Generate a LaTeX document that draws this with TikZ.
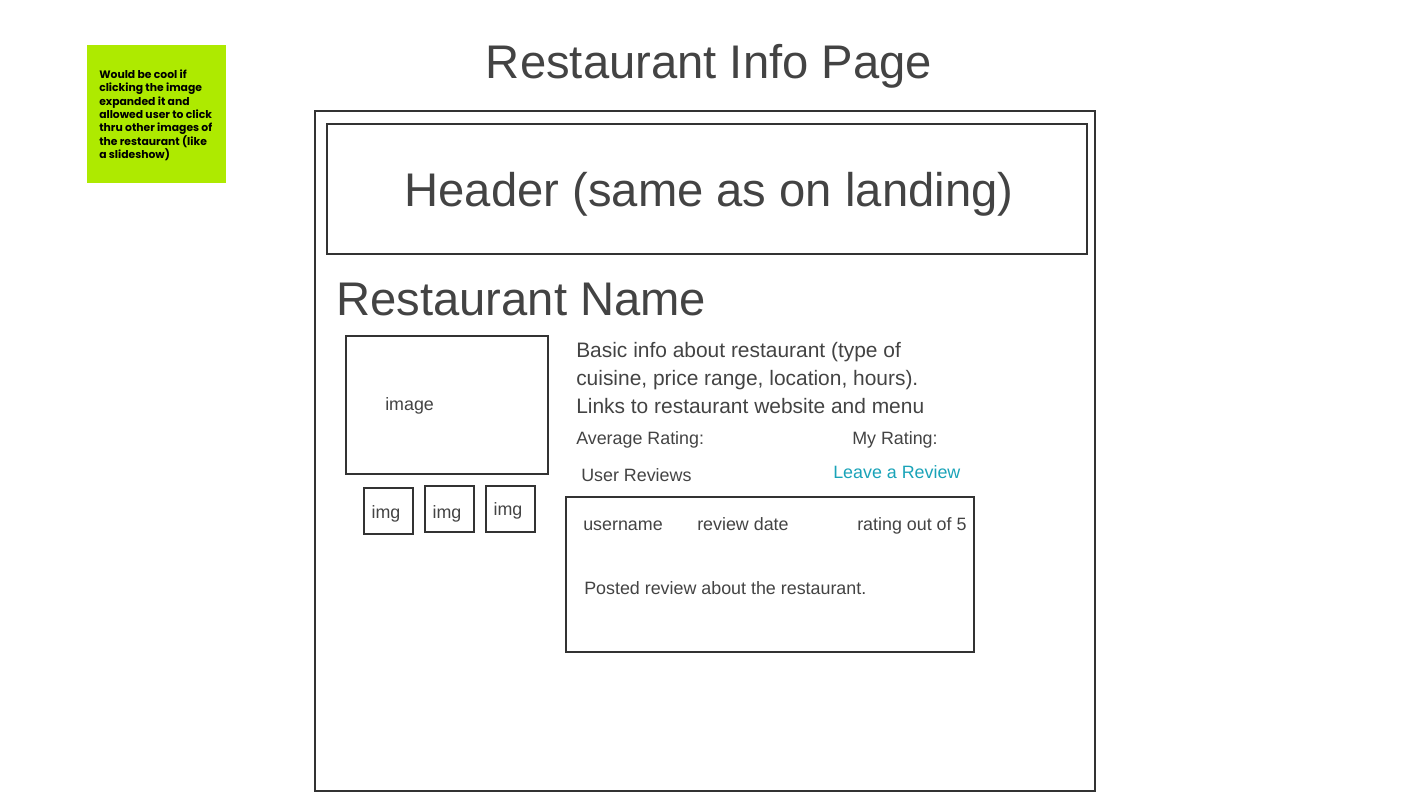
\documentclass[tikz,border=0pt]{standalone}
\usepackage{fontspec}
\setmainfont{Liberation Sans}
\newfontfamily\notefont{Poppins}
\definecolor{inktext}{HTML}{434343}
\definecolor{inkline}{HTML}{333333}
\definecolor{notegreen}{HTML}{AEEA00}
\definecolor{linkteal}{HTML}{1AA3B8}
\tikzset{
  wirebox/.style={draw=inkline, line width=1.5pt},
  lbl/.style={anchor=base west, inner sep=0.75pt, text=inktext},
  bigtxt/.style={font=\fontsize{35.4}{42}\selectfont},
  midtxt/.style={font=\fontsize{15.7}{21}\selectfont},
  smalltxt/.style={font=\fontsize{13.4}{16}\selectfont},
}
\begin{document}
\begin{tikzpicture}[x=0.75pt,y=0.75pt,yscale=-1,xscale=1]
			\useasboundingbox (0,0) rectangle (1422,800);
			
			%Sticky note
			\fill [notegreen] (87,45) rectangle (226,183);
			\node (note) [anchor=north west, inner sep=0pt, align=left, font=\notefont\bfseries\fontsize{8.1}{10}\selectfont] at (99,69.5) {Would be cool if\\clicking the image\\expanded it and\\allowed user to click\\thru other images of\\the restaurant (like\\a slideshow)};
			
			%Title
			\node (title) [lbl, anchor=base, bigtxt] at (709,78) {Restaurant Info Page};
			
			%Page frame
			\draw [wirebox] (315,111) rectangle (1095,791);
			%Header
			\draw [wirebox] (327,124) rectangle (1087,254);
			\node (header) [lbl, anchor=base, bigtxt] at (709,206) {Header (same as on landing)};
			
			\node (name) [lbl, bigtxt] at (335,315) {Restaurant Name};
			
			%Images
			\draw [wirebox] (346,336) rectangle (548,474);
			\node (image) [lbl, smalltxt] at (384,410) {image};
			\draw [wirebox] (364,488) rectangle (413,534);
			\node (imga) [lbl, anchor=base, smalltxt] at (386,518) {img};
			\draw [wirebox] (425,486) rectangle (474,532);
			\node (imgb) [lbl, anchor=base, smalltxt] at (447,518) {img};
			\draw [wirebox] (486,486) rectangle (535,532);
			\node (imgc) [lbl, anchor=base, smalltxt] at (508,515) {img};
			
			%Info
			\node (info) [lbl, anchor=north west, midtxt, align=left] at (575,341) {Basic info about restaurant (type of\\cuisine, price range, location, hours).\\Links to restaurant website and menu};
			\node (avg) [lbl, smalltxt] at (575,444) {Average Rating:};
			\node (mine) [lbl, smalltxt] at (851,444) {My Rating:};
			\node (reviews) [lbl, smalltxt] at (580,481) {User Reviews};
			\node (leave) [lbl, smalltxt, text=linkteal] at (832,478) {Leave a Review};
			
			%Review card
			\draw [wirebox] (566,497) rectangle (974,652);
			\node (user) [lbl, smalltxt] at (582,530) {username};
			\node (date) [lbl, smalltxt] at (696,530) {review date};
			\node (score) [lbl, smalltxt] at (856,530) {rating out of 5};
			\node (post) [lbl, smalltxt] at (583,594) {Posted review about the restaurant.};
			
		\end{tikzpicture}
\end{document}
